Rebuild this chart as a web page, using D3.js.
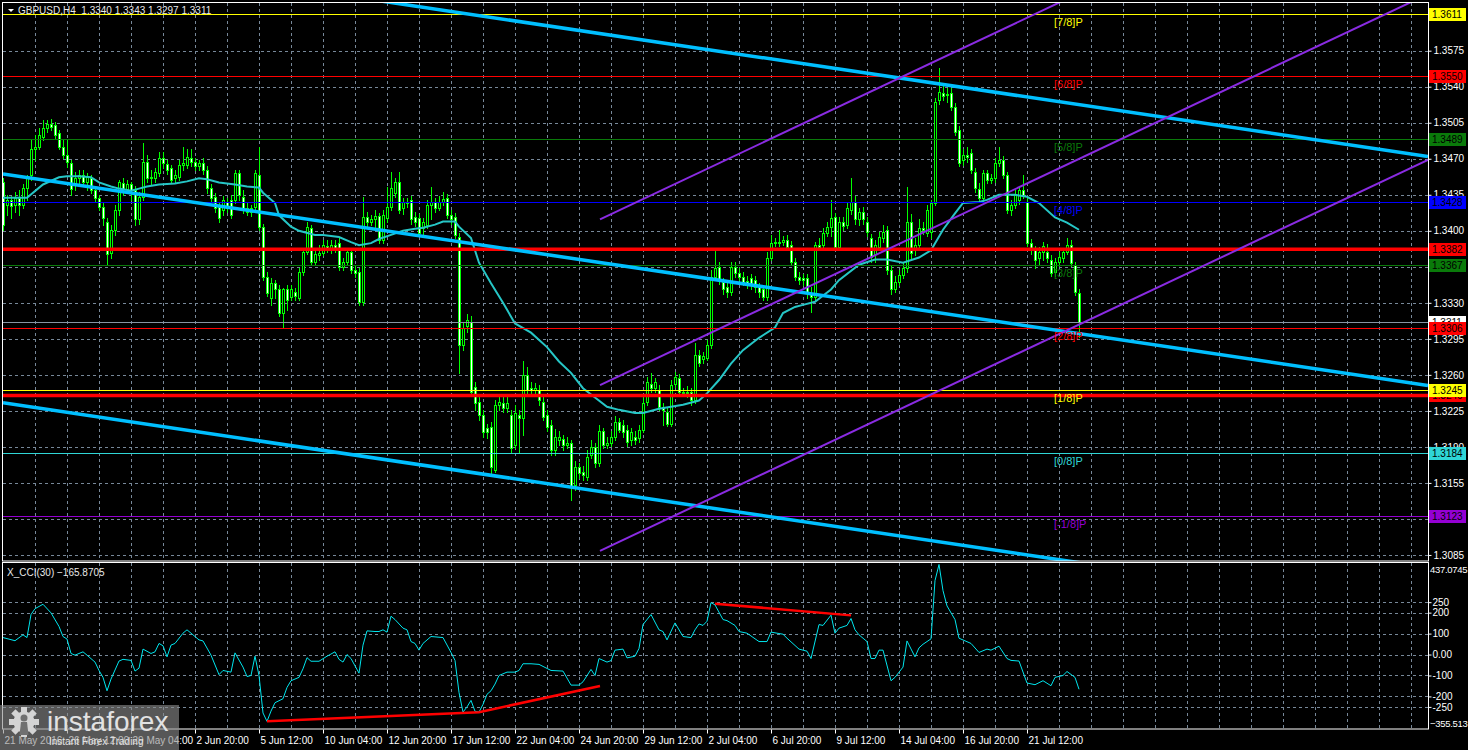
<!DOCTYPE html>
<html>
<head>
<meta charset="utf-8">
<script src="https://cdn.jsdelivr.net/npm/d3@7"></script>
<style>
  body { margin: 0; background: #000; }
  svg text { font-family: "Liberation Sans", Arial, sans-serif; }
</style>
</head>
<body>
<div id="chart"></div>
<script>
// GBPUSD H4 candles (bar 0 = left edge)
var opens = [
  1.3447,1.3425,1.3430,1.3425,1.3432,1.3425,1.3442,1.3454,1.3479,1.3481,
  1.3491,1.3500,1.3504,1.3503,1.3495,1.3481,1.3474,1.3466,1.3445,1.3451,
  1.3454,1.3447,1.3451,1.3440,1.3432,1.3423,1.3409,1.3378,1.3401,1.3420,
  1.3446,1.3441,1.3445,1.3440,1.3411,1.3433,1.3467,1.3451,1.3451,1.3456,
  1.3471,1.3465,1.3461,1.3451,1.3452,1.3464,1.3464,1.3471,1.3467,1.3463,
  1.3466,1.3459,1.3442,1.3433,1.3423,1.3420,1.3428,1.3430,1.3430,1.3456,
  1.3433,1.3422,1.3418,1.3423,1.3454,1.3404,1.3355,1.3335,1.3349,1.3343,
  1.3320,1.3343,1.3336,1.3341,1.3335,1.3360,1.3379,1.3403,1.3370,1.3376,
  1.3378,1.3385,1.3381,1.3386,1.3388,1.3365,1.3370,1.3379,1.3362,1.3360,
  1.3331,1.3413,1.3409,1.3411,1.3414,1.3391,1.3412,1.3423,1.3437,1.3447,
  1.3422,1.3428,1.3430,1.3413,1.3412,1.3403,1.3406,1.3425,1.3428,1.3422,
  1.3428,1.3432,1.3415,1.3413,1.3394,1.3289,1.3307,1.3311,1.3248,1.3234,
  1.3221,1.3208,1.3209,1.3168,1.3231,1.3233,1.3228,1.3221,1.3192,1.3221,
  1.3218,1.3260,1.3247,1.3245,1.3245,1.3234,1.3221,1.3211,1.3187,1.3197,
  1.3198,1.3192,1.3194,1.3153,1.3170,1.3166,1.3161,1.3182,1.3190,1.3174,
  1.3205,1.3192,1.3194,1.3200,1.3214,1.3211,1.3206,1.3197,1.3200,1.3199,
  1.3206,1.3234,1.3251,1.3247,1.3245,1.3229,1.3224,1.3212,1.3251,1.3257,
  1.3243,1.3242,1.3243,1.3236,1.3279,1.3275,1.3276,1.3289,1.3355,1.3365,
  1.3350,1.3345,1.3341,1.3365,1.3359,1.3355,1.3351,1.3354,1.3352,1.3345,
  1.3343,1.3336,1.3374,1.3388,1.3389,1.3389,1.3391,1.3386,1.3370,1.3355,
  1.3354,1.3354,1.3340,1.3336,1.3386,1.3386,1.3398,1.3404,1.3413,1.3384,
  1.3409,1.3406,1.3420,1.3428,1.3411,1.3418,1.3409,1.3393,1.3377,1.3384,
  1.3393,1.3401,1.3362,1.3343,1.3350,1.3357,1.3364,1.3409,1.3381,1.3386,
  1.3403,1.3398,1.3399,1.3427,1.3527,1.3534,1.3532,1.3534,1.3520,1.3498,
  1.3469,1.3474,1.3476,1.3457,1.3441,1.3432,1.3456,1.3449,1.3451,1.3466,
  1.3469,1.3454,1.3420,1.3425,1.3430,1.3440,1.3428,1.3388,1.3381,1.3374,
  1.3379,1.3379,1.3372,1.3360,1.3370,1.3374,1.3379,1.3386,1.3367,1.3340
];
var highs = [
  1.3451,1.3435,1.3434,1.3438,1.3440,1.3445,1.3454,1.3488,1.3493,1.3500,
  1.3508,1.3508,1.3509,1.3506,1.3498,1.3488,1.3488,1.3469,1.3457,1.3459,
  1.3459,1.3456,1.3454,1.3442,1.3435,1.3427,1.3412,1.3406,1.3425,1.3449,
  1.3451,1.3449,1.3447,1.3444,1.3438,1.3485,1.3474,1.3459,1.3461,1.3477,
  1.3477,1.3469,1.3464,1.3459,1.3469,1.3481,1.3479,1.3479,1.3471,1.3469,
  1.3471,1.3463,1.3445,1.3437,1.3427,1.3434,1.3432,1.3435,1.3459,1.3459,
  1.3440,1.3427,1.3425,1.3459,1.3481,1.3407,1.3360,1.3354,1.3352,1.3347,
  1.3344,1.3347,1.3347,1.3344,1.3364,1.3383,1.3409,1.3406,1.3381,1.3386,
  1.3391,1.3391,1.3391,1.3391,1.3393,1.3374,1.3383,1.3383,1.3366,1.3364,
  1.3433,1.3418,1.3415,1.3420,1.3417,1.3420,1.3443,1.3457,1.3451,1.3457,
  1.3432,1.3432,1.3434,1.3418,1.3416,1.3412,1.3430,1.3443,1.3432,1.3434,
  1.3438,1.3436,1.3420,1.3417,1.3398,1.3311,1.3319,1.3317,1.3253,1.3239,
  1.3226,1.3212,1.3214,1.3236,1.3239,1.3238,1.3238,1.3226,1.3231,1.3226,
  1.3273,1.3268,1.3253,1.3252,1.3250,1.3238,1.3226,1.3216,1.3207,1.3205,
  1.3202,1.3200,1.3197,1.3176,1.3174,1.3171,1.3187,1.3197,1.3194,1.3211,
  1.3208,1.3200,1.3205,1.3220,1.3218,1.3216,1.3211,1.3208,1.3205,1.3211,
  1.3238,1.3258,1.3262,1.3257,1.3250,1.3233,1.3228,1.3255,1.3263,1.3261,
  1.3247,1.3249,1.3247,1.3291,1.3284,1.3282,1.3294,1.3362,1.3382,1.3370,
  1.3354,1.3350,1.3370,1.3370,1.3364,1.3360,1.3356,1.3358,1.3356,1.3349,
  1.3346,1.3379,1.3396,1.3393,1.3401,1.3395,1.3396,1.3390,1.3374,1.3360,
  1.3358,1.3358,1.3345,1.3389,1.3393,1.3403,1.3409,1.3430,1.3417,1.3413,
  1.3413,1.3427,1.3451,1.3434,1.3422,1.3423,1.3413,1.3397,1.3391,1.3399,
  1.3406,1.3405,1.3366,1.3356,1.3362,1.3369,1.3443,1.3416,1.3393,1.3411,
  1.3409,1.3425,1.3430,1.3529,1.3558,1.3542,1.3539,1.3539,1.3524,1.3502,
  1.3479,1.3481,1.3479,1.3461,1.3446,1.3459,1.3459,1.3455,1.3471,1.3481,
  1.3473,1.3457,1.3430,1.3440,1.3444,1.3454,1.3432,1.3392,1.3385,1.3384,
  1.3389,1.3387,1.3376,1.3374,1.3379,1.3383,1.3393,1.3391,1.3370,1.3343
];
var lows = [
  1.3401,1.3415,1.3412,1.3418,1.3415,1.3422,1.3430,1.3449,1.3469,1.3479,
  1.3488,1.3496,1.3498,1.3490,1.3479,1.3471,1.3462,1.3435,1.3440,1.3445,
  1.3444,1.3440,1.3437,1.3428,1.3420,1.3406,1.3367,1.3374,1.3396,1.3415,
  1.3435,1.3438,1.3430,1.3406,1.3407,1.3430,1.3447,1.3445,1.3447,1.3453,
  1.3461,1.3455,1.3446,1.3447,1.3449,1.3459,1.3461,1.3463,1.3459,1.3459,
  1.3455,1.3437,1.3428,1.3418,1.3409,1.3415,1.3418,1.3412,1.3427,1.3430,
  1.3417,1.3415,1.3414,1.3420,1.3401,1.3352,1.3337,1.3328,1.3335,1.3317,
  1.3306,1.3323,1.3333,1.3333,1.3333,1.3357,1.3377,1.3367,1.3367,1.3372,
  1.3376,1.3379,1.3378,1.3379,1.3362,1.3362,1.3367,1.3359,1.3355,1.3328,
  1.3328,1.3405,1.3406,1.3403,1.3388,1.3388,1.3409,1.3420,1.3433,1.3417,
  1.3416,1.3423,1.3407,1.3405,1.3395,1.3395,1.3403,1.3411,1.3418,1.3420,
  1.3425,1.3412,1.3407,1.3393,1.3262,1.3284,1.3302,1.3241,1.3226,1.3216,
  1.3200,1.3199,1.3165,1.3166,1.3226,1.3224,1.3224,1.3185,1.3189,1.3184,
  1.3202,1.3242,1.3241,1.3241,1.3231,1.3216,1.3205,1.3182,1.3182,1.3192,
  1.3187,1.3189,1.3138,1.3148,1.3160,1.3158,1.3158,1.3179,1.3170,1.3171,
  1.3189,1.3189,1.3191,1.3197,1.3204,1.3200,1.3191,1.3192,1.3193,1.3195,
  1.3204,1.3231,1.3243,1.3243,1.3226,1.3211,1.3210,1.3210,1.3248,1.3241,
  1.3239,1.3238,1.3231,1.3233,1.3269,1.3272,1.3274,1.3286,1.3352,1.3348,
  1.3339,1.3336,1.3338,1.3355,1.3352,1.3347,1.3344,1.3343,1.3341,1.3336,
  1.3333,1.3333,1.3372,1.3385,1.3385,1.3386,1.3381,1.3367,1.3352,1.3348,
  1.3347,1.3335,1.3321,1.3333,1.3381,1.3383,1.3395,1.3395,1.3381,1.3381,
  1.3401,1.3403,1.3416,1.3407,1.3406,1.3407,1.3395,1.3370,1.3370,1.3381,
  1.3389,1.3358,1.3339,1.3341,1.3347,1.3354,1.3360,1.3374,1.3376,1.3383,
  1.3397,1.3395,1.3393,1.3425,1.3523,1.3527,1.3525,1.3517,1.3493,1.3463,
  1.3464,1.3467,1.3456,1.3438,1.3428,1.3428,1.3446,1.3446,1.3447,1.3463,
  1.3451,1.3417,1.3415,1.3422,1.3426,1.3432,1.3385,1.3377,1.3364,1.3367,
  1.3372,1.3370,1.3356,1.3356,1.3366,1.3370,1.3377,1.3366,1.3338,1.3297
];
var closes = [
  1.3406,1.3430,1.3424,1.3432,1.3425,1.3442,1.3451,1.3479,1.3481,1.3493,
  1.3500,1.3504,1.3501,1.3493,1.3481,1.3474,1.3467,1.3441,1.3451,1.3454,
  1.3447,1.3452,1.3440,1.3432,1.3423,1.3412,1.3377,1.3401,1.3420,1.3447,
  1.3441,1.3445,1.3440,1.3411,1.3433,1.3467,1.3451,1.3452,1.3457,1.3471,
  1.3466,1.3459,1.3449,1.3454,1.3464,1.3466,1.3472,1.3467,1.3463,1.3466,
  1.3459,1.3442,1.3432,1.3422,1.3412,1.3430,1.3422,1.3415,1.3456,1.3435,
  1.3420,1.3418,1.3422,1.3456,1.3404,1.3355,1.3340,1.3349,1.3343,1.3320,
  1.3343,1.3333,1.3343,1.3337,1.3360,1.3379,1.3404,1.3370,1.3377,1.3378,
  1.3386,1.3382,1.3386,1.3383,1.3365,1.3370,1.3379,1.3362,1.3359,1.3331,
  1.3413,1.3409,1.3411,1.3414,1.3391,1.3415,1.3423,1.3442,1.3447,1.3420,
  1.3428,1.3427,1.3411,1.3409,1.3398,1.3409,1.3425,1.3428,1.3422,1.3428,
  1.3431,1.3415,1.3411,1.3396,1.3289,1.3306,1.3313,1.3243,1.3233,1.3221,
  1.3204,1.3204,1.3170,1.3231,1.3234,1.3228,1.3233,1.3189,1.3223,1.3218,
  1.3260,1.3245,1.3245,1.3247,1.3236,1.3219,1.3209,1.3187,1.3200,1.3200,
  1.3192,1.3194,1.3151,1.3170,1.3165,1.3163,1.3180,1.3190,1.3174,1.3205,
  1.3192,1.3194,1.3200,1.3214,1.3206,1.3204,1.3195,1.3204,1.3197,1.3206,
  1.3233,1.3253,1.3247,1.3253,1.3229,1.3226,1.3212,1.3250,1.3258,1.3243,
  1.3242,1.3243,1.3236,1.3279,1.3272,1.3278,1.3289,1.3355,1.3364,1.3352,
  1.3343,1.3341,1.3365,1.3359,1.3355,1.3350,1.3349,1.3347,1.3345,1.3341,
  1.3336,1.3374,1.3388,1.3389,1.3388,1.3391,1.3384,1.3370,1.3355,1.3352,
  1.3352,1.3340,1.3336,1.3386,1.3384,1.3398,1.3404,1.3412,1.3384,1.3409,
  1.3405,1.3422,1.3428,1.3411,1.3418,1.3411,1.3399,1.3375,1.3386,1.3394,
  1.3399,1.3362,1.3343,1.3350,1.3357,1.3364,1.3409,1.3378,1.3386,1.3403,
  1.3401,1.3420,1.3427,1.3525,1.3535,1.3531,1.3533,1.3520,1.3496,1.3466,
  1.3474,1.3472,1.3459,1.3442,1.3432,1.3456,1.3449,1.3451,1.3466,1.3469,
  1.3454,1.3420,1.3425,1.3435,1.3440,1.3435,1.3388,1.3381,1.3372,1.3379,
  1.3385,1.3374,1.3359,1.3370,1.3375,1.3379,1.3386,1.3369,1.3341,1.3311
];

// moving average, sampled at bars
var maBars = [0,6,10,14,16,19,22,24,27,29,32,34,36,39,43,46,49,51,54,58,
  61,64,65,68,69,72,74,78,80,84,87,89,92,94,97,100,103,105,108,110,
  113,114,117,119,122,125,128,132,136,139,142,145,148,151,154,158,160,164,167,170,
  174,176,179,182,185,189,193,195,198,200,203,207,209,214,218,221,225,229,232,235,
  238,240,244,246,249,253,256,259,263,266,269];
var maValues = [1.3432,1.3432,1.3445,1.3452,1.3453,1.3453,1.3452,1.3447,1.3443,1.3441,
  1.3439,1.3441,1.3443,1.3445,1.3446,1.3448,1.3451,1.3450,1.3447,1.3445,
  1.3443,1.3442,1.3437,1.3427,1.3415,1.3404,1.3400,1.3396,1.3396,1.3394,
  1.3389,1.3386,1.3388,1.3392,1.3396,1.3400,1.3402,1.3403,1.3406,1.3409,
  1.3409,1.3404,1.3393,1.3369,1.3349,1.3330,1.3310,1.3301,1.3287,1.3273,
  1.3262,1.3247,1.3238,1.3229,1.3226,1.3223,1.3223,1.3227,1.3229,1.3231,
  1.3235,1.3242,1.3255,1.3271,1.3284,1.3296,1.3306,1.3320,1.3326,1.3328,
  1.3331,1.3343,1.3352,1.3367,1.3372,1.3372,1.3369,1.3374,1.3381,1.3401,
  1.3417,1.3427,1.3428,1.3430,1.3435,1.3435,1.3433,1.3427,1.3413,1.3408,
  1.3401];

// X_CCI(30), sampled at bars
var cciBars = [0,3,5,6,7,8,10,12,14,15,16,17,18,20,21,23,24,25,26,27,
  29,30,32,33,34,35,37,38,39,40,41,42,43,45,46,47,49,50,52,54,
  55,57,58,60,61,62,63,64,65,66,67,68,70,71,72,74,75,76,77,79,
  81,83,84,85,86,87,89,90,91,93,94,95,96,97,98,100,101,102,103,104,
  105,107,110,112,113,114,115,116,117,118,119,120,121,122,123,124,126,128,129,130,
  132,134,137,140,142,144,145,147,148,149,151,152,153,155,156,158,159,160,162,164,
  165,166,168,170,172,173,174,175,176,177,178,180,181,183,184,186,189,191,192,195,
  196,199,201,202,204,205,207,208,209,211,212,213,214,216,217,218,219,220,222,223,
  225,226,228,229,230,232,233,234,235,236,238,239,242,244,246,247,249,251,252,254,
  256,258,260,262,263,265,266,268,269];
var cciValues = [81,66,94,81,191,219,240,199,134,86,74,5,-3,13,-3,-36,-76,-109,-173,-117,
  -31,-23,-28,-79,-65,26,5,13,53,42,-11,45,53,102,118,102,70,65,-3,-96,
  -76,-84,8,-60,-105,-100,-8,-100,-279,-319,-270,-230,-211,-157,-125,-109,-68,-15,-32,-32,
  -8,13,-23,-36,0,-19,-89,45,113,110,110,118,107,183,167,126,118,62,53,21,
  53,86,81,10,-28,-181,-275,-250,-219,-271,-275,-238,-190,-173,-141,-100,-84,-84,-76,-44,
  -44,-47,-76,-79,-146,-146,-130,-71,-100,-19,-36,-29,21,26,-16,-8,29,143,191,118,
  110,70,151,86,81,118,146,139,159,248,237,167,162,139,110,102,62,62,107,97,
  78,26,16,-19,143,139,188,102,126,139,172,118,94,62,-19,-19,21,21,-125,-109,
  -60,65,-11,32,49,75,353,430,305,232,167,78,53,10,26,21,40,-19,-28,-31,
  -136,-144,-125,-149,-109,-100,-81,-109,-165.8705];
var cciTrend1Bars = [66, 119, 149.25];
var cciTrend1Values = [-318, -275, -150];
var cciTrend2Bars = [178, 212];
var cciTrend2Values = [243, 187];

// channels (bar, price)
var blueBars = [0, 356.25];
var blueMid = [1.34553, 1.32497];
var blueWidth = 0.02225;
var purpleBars = [149.25, 356.25];
var purpleMid = [1.3250, 1.3630];
var purpleWidth = 0.0161;

// Murrey math levels
var murreyValues = [1.3611, 1.3550, 1.3489, 1.3428, 1.3367, 1.3306, 1.3245, 1.3184, 1.3123];
var murreyNames = ["[7/8]P", "[6/8]P", "[5/8]P", "[4/8]P", "[3/8]P", "[2/8]P", "[1/8]P", "[0/8]P", "[-1/8]P"];
var murreyColors = ["#ffff00", "#ff0000", "#0a7a0a", "#0000ff", "#0a7a0a", "#ff0000", "#ffff00", "#2fd6d6", "#9400d3"];
var redLevels = [1.3382, 1.3240];
var lastPrice = 1.3311;

var priceTicks = [1.3575, 1.3540, 1.3505, 1.3470, 1.3435, 1.3400, 1.3365, 1.3330,
  1.3295, 1.3260, 1.3225, 1.3190, 1.3155, 1.3120, 1.3085];
var cciTicks = [250, 200, 100, 0, -100, -200, -250];
var cciMax = 437.0745, cciMin = -355.513;
var timeBars = [0, 16, 32, 48, 64, 80, 96, 112, 128, 144, 160, 176, 192, 208, 224, 240, 256];
var timeLabels = ["21 May 2016", "26 May 12:00", "29 May 04:00", "2 Jun 20:00", "5 Jun 12:00",
  "10 Jun 04:00", "12 Jun 20:00", "17 Jun 12:00", "22 Jun 04:00", "24 Jun 20:00",
  "29 Jun 12:00", "2 Jul 04:00", "6 Jul 20:00", "9 Jul 12:00", "14 Jul 04:00",
  "16 Jul 20:00", "21 Jul 12:00"];

function init(){
  var w = 1468, h = 750;
  var left = 3, right = 1428;
  var mainTop = 3, mainBottom = 561, cciTop = 563, cciBottom = 729;
  var gridColor = "#778899";

  var x = d3.scaleLinear().domain([0, 356.25]).range([left, right]);
  var y = d3.scaleLinear().domain([1.307912, 1.362135]).range([mainBottom, mainTop]);
  var yc = d3.scaleLinear().domain([cciMin, cciMax]).range([cciBottom, cciTop]);

  var svg = d3.select("#chart").append("svg")
    .attr("width", w).attr("height", h)
    .style("display", "block");

  svg.append("rect").attr("width", w).attr("height", h).attr("fill", "#000");

  var defs = svg.append("defs");
  defs.append("clipPath").attr("id", "clipMain").append("rect")
    .attr("x", left).attr("y", mainTop).attr("width", right - left).attr("height", mainBottom - mainTop);
  defs.append("clipPath").attr("id", "clipCci").append("rect")
    .attr("x", left).attr("y", cciTop).attr("width", right - left).attr("height", cciBottom - cciTop);

  var main = svg.append("g").attr("clip-path", "url(#clipMain)");
  var cci = svg.append("g").attr("clip-path", "url(#clipCci)");

  // grid
  var vgrid = d3.range(8, 357, 8);
  [[main, mainTop, mainBottom], [cci, cciTop, cciBottom]].forEach(function(p){
    p[0].selectAll(null).data(vgrid).enter().append("line")
      .attr("x1", function(d){ return Math.round(x(d)) + 0.5; })
      .attr("x2", function(d){ return Math.round(x(d)) + 0.5; })
      .attr("y1", p[1]).attr("y2", p[2])
      .attr("stroke", gridColor).attr("stroke-dasharray", "3,3");
  });
  main.selectAll(null).data(priceTicks).enter().append("line")
    .attr("x1", left).attr("x2", right)
    .attr("y1", function(d){ return Math.round(y(d)) + 0.5; })
    .attr("y2", function(d){ return Math.round(y(d)) + 0.5; })
    .attr("stroke", gridColor).attr("stroke-dasharray", "3,3");
  cci.selectAll(null).data(cciTicks).enter().append("line")
    .attr("x1", left).attr("x2", right)
    .attr("y1", function(d){ return Math.round(yc(d)) + 0.5; })
    .attr("y2", function(d){ return Math.round(yc(d)) + 0.5; })
    .attr("stroke", gridColor).attr("stroke-dasharray", "3,3");

  // candles
  var bars = d3.range(opens.length);
  var candles = main.append("g");
  candles.selectAll(null).data(bars).enter().append("line")
    .attr("x1", function(i){ return Math.round(x(i)) + 0.5; })
    .attr("x2", function(i){ return Math.round(x(i)) + 0.5; })
    .attr("y1", function(i){ return Math.round(y(highs[i])); })
    .attr("y2", function(i){ return Math.round(y(lows[i])) + 1; })
    .attr("stroke", "#00ff00");
  candles.selectAll(null).data(bars).enter().append("rect")
    .attr("x", function(i){ return Math.round(x(i)) - 1; })
    .attr("width", 3)
    .attr("y", function(i){ return Math.round(y(Math.max(opens[i], closes[i]))); })
    .attr("height", function(i){
      return Math.max(1, Math.round(y(Math.min(opens[i], closes[i]))) - Math.round(y(Math.max(opens[i], closes[i]))) + 1);
    })
    .attr("fill", "#00ff00");
  candles.selectAll(null).data(bars.filter(function(i){
      return Math.round(y(Math.min(opens[i], closes[i]))) - Math.round(y(Math.max(opens[i], closes[i]))) > 1;
    })).enter().append("rect")
    .attr("x", function(i){ return Math.round(x(i)); })
    .attr("width", 1)
    .attr("y", function(i){ return Math.round(y(Math.max(opens[i], closes[i]))) + 1; })
    .attr("height", function(i){
      return Math.round(y(Math.min(opens[i], closes[i]))) - Math.round(y(Math.max(opens[i], closes[i]))) - 1;
    })
    .attr("fill", function(i){ return closes[i] >= opens[i] ? "#000" : "#ffffff"; });

  // moving average
  main.append("path")
    .datum(maBars)
    .attr("d", d3.line()
      .x(function(d){ return x(d); })
      .y(function(d, k){ return y(maValues[k]); }))
    .attr("fill", "none").attr("stroke", "#26c6c6").attr("stroke-width", 2);

  // horizontal levels
  main.append("line")
    .attr("x1", left).attr("x2", right)
    .attr("y1", Math.round(y(lastPrice)) + 0.5).attr("y2", Math.round(y(lastPrice)) + 0.5)
    .attr("stroke", "#8795a3");
  main.selectAll(null).data(redLevels).enter().append("line")
    .attr("x1", left).attr("x2", right)
    .attr("y1", function(d){ return y(d); }).attr("y2", function(d){ return y(d); })
    .attr("stroke", "#ff0000").attr("stroke-width", 3.5);
  main.selectAll(null).data(murreyValues).enter().append("line")
    .attr("x1", left).attr("x2", right)
    .attr("y1", function(d){ return Math.round(y(d)) + 0.5; })
    .attr("y2", function(d){ return Math.round(y(d)) + 0.5; })
    .attr("stroke", function(d, k){ return murreyColors[k]; });

  // regression channel
  [-1, 0, 1].forEach(function(s){
    main.append("line")
      .attr("x1", x(blueBars[0])).attr("y1", y(blueMid[0] + s * blueWidth))
      .attr("x2", x(blueBars[1])).attr("y2", y(blueMid[1] + s * blueWidth))
      .attr("stroke", "#00bfff").attr("stroke-width", 3.5);
  });
  // equidistant channel
  [-1, 0, 1].forEach(function(s){
    main.append("line")
      .attr("x1", x(purpleBars[0])).attr("y1", y(purpleMid[0] + s * purpleWidth))
      .attr("x2", x(purpleBars[1])).attr("y2", y(purpleMid[1] + s * purpleWidth))
      .attr("stroke", "#8a2be2").attr("stroke-width", 2);
  });

  // murrey captions
  main.selectAll(null).data(murreyValues).enter().append("text")
    .attr("x", x(262.75))
    .attr("y", function(d){ return y(d) + 12; })
    .attr("fill", function(d, k){ return murreyColors[k]; })
    .attr("font-size", 11)
    .text(function(d, k){ return murreyNames[k]; });

  // CCI line + trend lines
  cci.append("path")
    .datum(cciBars)
    .attr("d", d3.line()
      .x(function(d){ return x(d); })
      .y(function(d, k){ return yc(cciValues[k]); }))
    .attr("fill", "none").attr("stroke", "#00e6ee").attr("stroke-width", 1);
  [[cciTrend1Bars, cciTrend1Values], [cciTrend2Bars, cciTrend2Values]].forEach(function(t){
    cci.append("path")
      .datum(t[0])
      .attr("d", d3.line()
        .x(function(d){ return x(d); })
        .y(function(d, k){ return yc(t[1][k]); }))
      .attr("fill", "none").attr("stroke", "#ff0000").attr("stroke-width", 2.5);
  });

  // panel borders
  svg.append("rect").attr("x", 2.5).attr("y", 2.5)
    .attr("width", right - 2).attr("height", mainBottom - 2.5)
    .attr("fill", "none").attr("stroke", "#fff");
  svg.append("rect").attr("x", 2.5).attr("y", cciTop - 0.5)
    .attr("width", right - 2).attr("height", cciBottom - cciTop + 0.5)
    .attr("fill", "none").attr("stroke", "#fff");

  // axes
  var priceAxis = svg.append("g")
    .attr("transform", "translate(" + (right + 0.5) + ",0)")
    .call(d3.axisRight(y).tickValues(priceTicks).tickFormat(d3.format(".4f")).tickSize(3).tickPadding(2));
  var cciAxis = svg.append("g")
    .attr("transform", "translate(" + (right + 0.5) + ",0)")
    .call(d3.axisRight(yc).tickValues(cciTicks)
      .tickFormat(function(d){ return d === 0 ? "0.00" : d; }).tickSize(3).tickPadding(1));
  var timeAxis = svg.append("g")
    .attr("transform", "translate(0," + (cciBottom + 0.5) + ")")
    .call(d3.axisBottom(x).tickValues(timeBars)
      .tickFormat(function(d, k){ return timeLabels[k]; }).tickSize(4).tickPadding(3));
  [priceAxis, cciAxis, timeAxis].forEach(function(a){
    a.select(".domain").remove();
    a.selectAll("line").attr("stroke", "#fff");
    a.selectAll("text").attr("fill", "#fff").attr("font-size", 10)
      .attr("font-family", '"Liberation Sans", Arial, sans-serif');
  });
  timeAxis.selectAll("text").attr("text-anchor", "start").attr("dx", 1);
  svg.append("text").attr("x", right + 2).attr("y", 573).attr("fill", "#fff")
    .attr("font-size", 9.5).attr("letter-spacing", -0.3).text(d3.format(".4f")(cciMax));
  svg.append("text").attr("x", right + 2).attr("y", 727).attr("fill", "#fff")
    .attr("font-size", 9.5).attr("letter-spacing", -0.3).text(d3.format(".3f")(cciMin));

  // price boxes on the axis
  var boxes = [{v: lastPrice, c: "#ffffff"}];
  redLevels.forEach(function(v){ boxes.push({v: v, c: "#ff0000"}); });
  murreyValues.forEach(function(v, k){ boxes.push({v: v, c: murreyColors[k]}); });
  var bx = svg.selectAll(null).data(boxes).enter().append("g");
  bx.append("rect")
    .attr("x", right + 1).attr("width", 37).attr("height", 13)
    .attr("y", function(d){ return Math.round(y(d.v)) - 6; })
    .attr("fill", function(d){ return d.c; });
  bx.append("text")
    .attr("x", right + 4)
    .attr("y", function(d){ return Math.round(y(d.v)) + 4; })
    .attr("font-size", 10).attr("fill", "#000")
    .text(function(d){ return d3.format(".4f")(d.v); });

  // titles
  svg.append("path").attr("d", "M8,9 L14,9 L11,12 Z").attr("fill", "#fff");
  svg.append("text").attr("x", 18).attr("y", 14).attr("fill", "#e8e8e8")
    .attr("font-size", 10).style("white-space", "pre")
    .text("GBPUSD,H4  " + [opens[269], highs[269], lows[269], closes[269]].map(d3.format(".4f")).join(" "));
  svg.append("text").attr("x", 7).attr("y", 576).attr("fill", "#e8e8e8")
    .attr("font-size", 10)
    .text("X_CCI(30) " + d3.format(".4f")(cciValues[cciValues.length - 1]));

  // watermark
  var logo = svg.append("g");
  logo.append("rect").attr("x", 0).attr("y", 705).attr("width", 179).attr("height", 45)
    .attr("fill", "#8c8c8c").attr("opacity", 0.62);
  var gear = logo.append("g").attr("transform", "translate(24,722)").attr("fill", "#d4d4d4");
  d3.range(8).forEach(function(k){
    gear.append("rect").attr("x", -3).attr("y", -15).attr("width", 6).attr("height", 7)
      .attr("transform", "rotate(" + (k * 45) + ")");
  });
  gear.append("circle").attr("r", 10.5);
  gear.append("circle").attr("cy", -4).attr("r", 3.5).attr("fill", "#707070");
  gear.append("path").attr("d", "M-3,0 L3,0 L4.5,13 L-4.5,13 Z").attr("fill", "#707070");
  logo.append("text").attr("x", 47).attr("y", 731).attr("fill", "#e2e2e2")
    .attr("font-size", 28).text("instaforex");
  logo.append("text").attr("x", 49).attr("y", 745).attr("fill", "#e2e2e2")
    .attr("font-size", 10).text("Instant Forex Trading");
}

window.onload = init;
</script>
</body>
</html>
